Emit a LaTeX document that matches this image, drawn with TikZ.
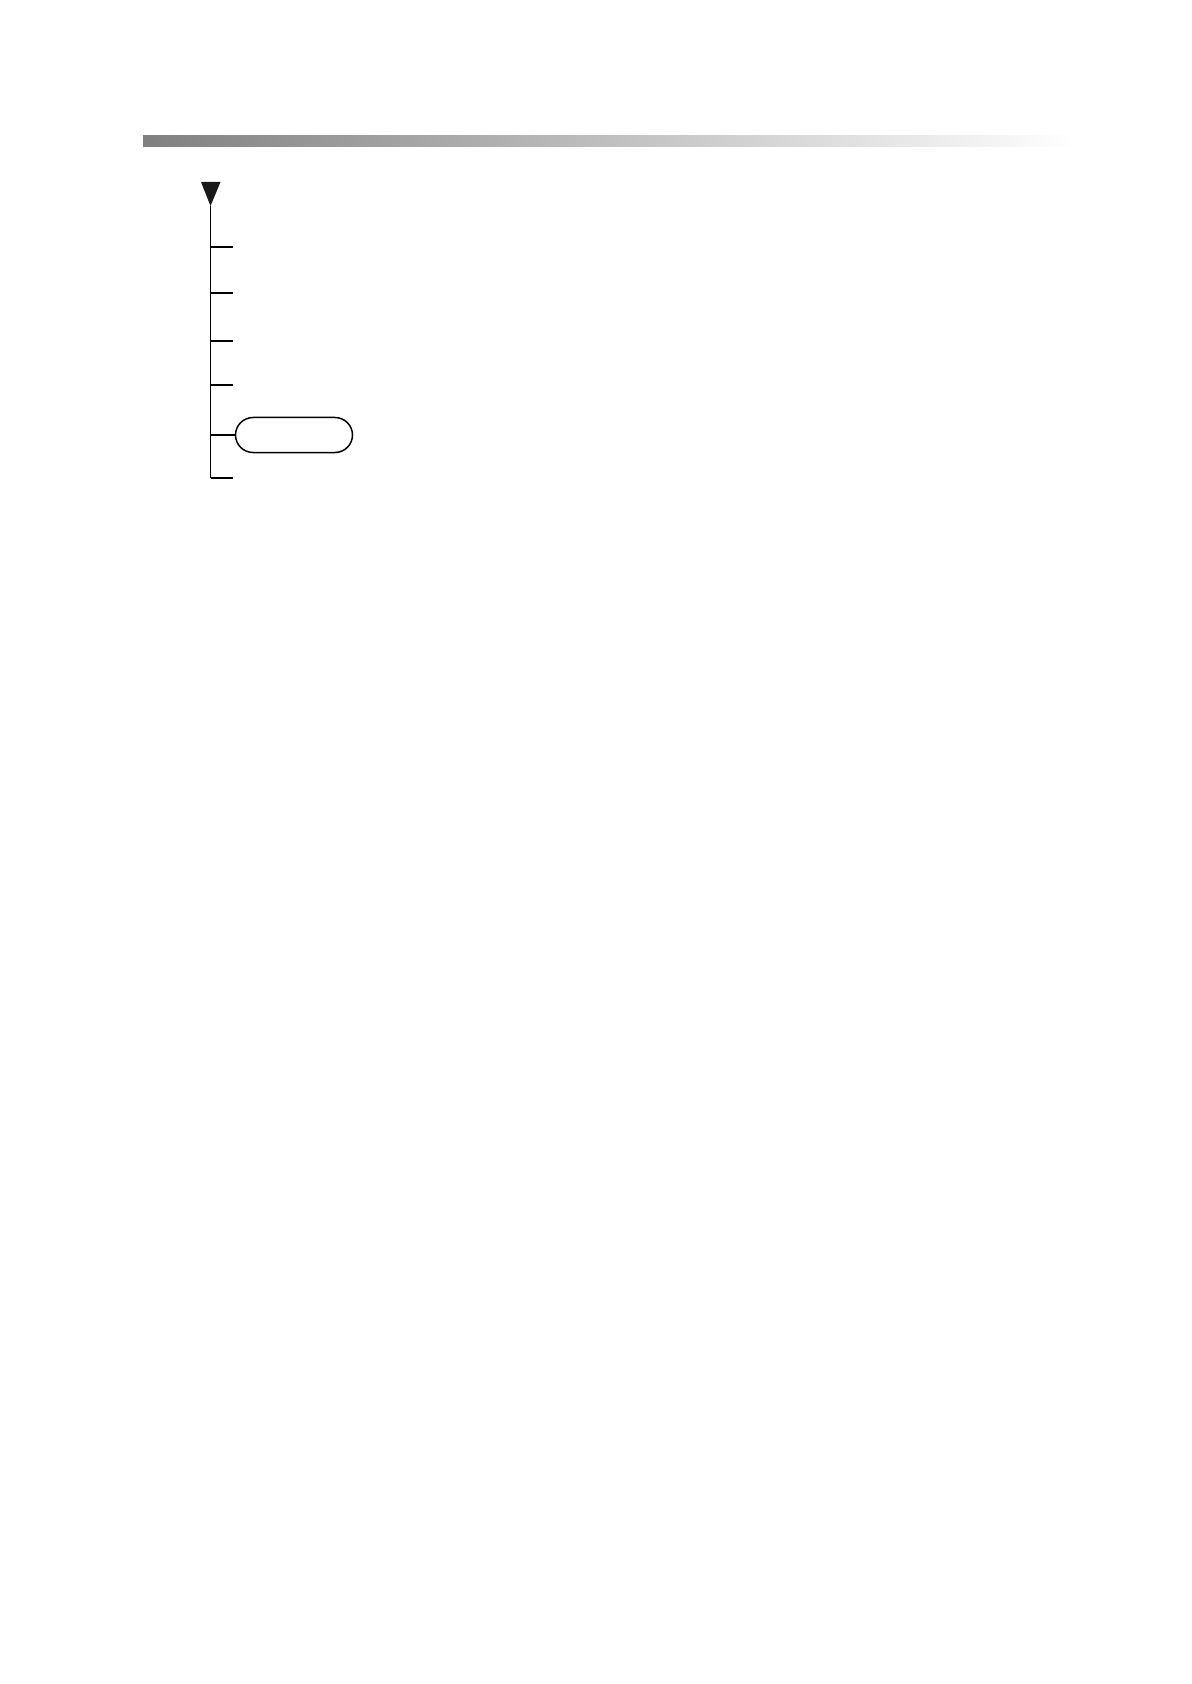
\documentclass[tikz,border=0pt]{standalone}
\usetikzlibrary{shapes.misc}
\begin{document}
\begin{tikzpicture}[%
        x = 0.5pt,
        y = -0.5pt,
        line width = 0.75pt,
        pill/.style = {rounded rectangle, draw, minimum width = 58.5pt,
                       minimum height = 17.5pt, inner sep = 0pt},
        ]

\useasboundingbox (0,0) rectangle (1191,1684);

% header bar
\shade[left color = black!50, right color = white] (143,136) rectangle (1076,147);

% marker and stem
\fill[black!90] (201,182) -- (220.5,182) -- (210.5,206) coordinate (top) -- cycle;
\coordinate (bot) at (210.5,478);
\draw (top) -- (bot);

\foreach \Y/\NAME in {247/t1,293/t2,341/t3,385/t4,478/t6}{%
    \coordinate (\NAME) at (210.5,\Y);
    \draw (\NAME) -- +(22.5,0);
    }

\node (box) [pill] at (294,435) {};
\coordinate (t5) at (210.5,435);
\draw (t5) -- (box.west);

\end{tikzpicture}
\end{document}
